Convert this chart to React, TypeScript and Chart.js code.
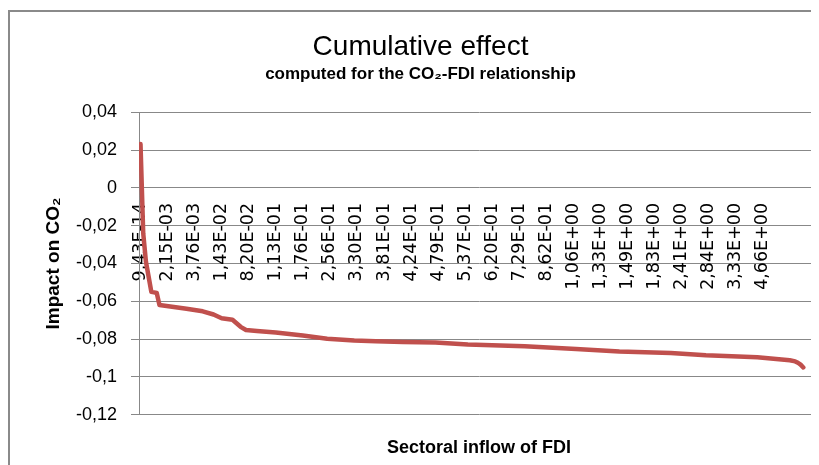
import React, { useEffect, useRef } from 'react';
import { Chart, registerables } from 'chart.js';

Chart.register(...registerables);

const chartTitle = 'Cumulative effect';
const chartSubtitle = 'computed for the CO\u2082-FDI relationship';
const yAxisTitle = 'Impact on CO\u2082';
const xAxisTitle = 'Sectoral inflow of FDI';

// Category labels shown on the x axis (every 10th sector)
const fdiTickLabels = [
  '9,43E-14', '2,15E-03', '3,76E-03', '1,43E-02', '8,20E-02', '1,13E-01',
  '1,76E-01', '2,56E-01', '3,30E-01', '3,81E-01', '4,24E-01', '4,79E-01',
  '5,37E-01', '6,20E-01', '7,29E-01', '8,62E-01', '1,06E+00', '1,33E+00',
  '1,49E+00', '1,83E+00', '2,41E+00', '2,84E+00', '3,33E+00', '4,66E+00',
];
const labelEvery = 10;

// Sector (category) index and cumulative impact
const sectorIndex = [
  0, 1, 2, 3, 4, 5, 6, 7, 11, 17, 23, 27, 30, 34, 37, 39, 43, 50, 60, 69, 79,
  87, 97, 109, 121, 142, 161, 177, 196, 209, 228, 232, 240, 242, 243, 244, 245,
];
const impactValues = [
  0.0232, -0.024, -0.039, -0.047, -0.055, -0.0553, -0.0556, -0.062, -0.0627,
  -0.0639, -0.0653, -0.067, -0.069, -0.0698, -0.0735, -0.0752, -0.0757,
  -0.0765, -0.0781, -0.0798, -0.0808, -0.0812, -0.0815, -0.0818, -0.0829,
  -0.0838, -0.0852, -0.0865, -0.0873, -0.0886, -0.0896, -0.0901, -0.0912,
  -0.0918, -0.0925, -0.0935, -0.095,
];

const yTickValues = [0.04, 0.02, 0, -0.02, -0.04, -0.06, -0.08, -0.1, -0.12];

const SANS = "'Liberation Sans', Arial, sans-serif";
const GRID = '#888888';

const framePlugin = {
  id: 'frame',
  beforeDraw(chart: any) {
    const ctx = chart.ctx;
    ctx.save();
    ctx.fillStyle = '#ffffff';
    ctx.fillRect(0, 0, chart.width, chart.height);
    ctx.strokeStyle = '#8a8a8a';
    ctx.lineWidth = 2;
    ctx.beginPath();
    ctx.moveTo(1, chart.height);
    ctx.lineTo(1, 3);
    ctx.lineTo(chart.width, 3);
    ctx.stroke();
    ctx.restore();
  },
};

function fmtComma(v: number) {
  const r = Math.round(v * 100) / 100;
  if (r === 0) return '0';
  return String(r).replace('.', ',');
}

export default function App() {
  const ref = useRef<HTMLCanvasElement>(null);

  useEffect(() => {
    if (!ref.current) return;
    const points = sectorIndex.map((x, i) => ({ x, y: impactValues[i] }));
    const chart = new Chart(ref.current, {
      type: 'line',
      data: {
        datasets: [
          {
            data: points,
            borderColor: '#C0504D',
            backgroundColor: '#C0504D',
            borderWidth: 4.5,
            pointRadius: 0,
            tension: 0,
            fill: false,
            borderJoinStyle: 'round',
            borderCapStyle: 'round',
          },
        ],
      },
      options: {
        animation: false,
        responsive: false,
        events: [],
        layout: { padding: { left: 14, right: 0, top: 0, bottom: 0 } },
        plugins: {
          legend: { display: false },
          tooltip: { enabled: false },
          title: {
            display: true,
            text: chartTitle,
            color: '#000',
            font: { family: SANS, size: 28, weight: 'normal' },
            padding: { top: 22, bottom: 0 },
          },
          subtitle: {
            display: true,
            text: chartSubtitle,
            color: '#000',
            font: { family: SANS, size: 17, weight: 'bold' },
            padding: { top: 1, bottom: 27.3 },
          },
        },
        scales: {
          x: {
            type: 'linear',
            position: { y: 0 },
            min: -0.56,
            max: 250.8,
            afterBuildTicks: (axis: any) => {
              axis.ticks = fdiTickLabels.map((_, i) => ({ value: i * labelEvery }));
            },
            ticks: {
              autoSkip: false,
              maxRotation: 90,
              minRotation: 90,
              padding: 15,
              color: '#000',
              font: { family: "'DejaVu Sans', sans-serif", size: 17.5 },
              callback: (v: any) => fdiTickLabels[Math.round(Number(v) / labelEvery)] ?? '',
            },
            grid: { display: false, drawTicks: false },
            border: { display: false },
          },
          x2: {
            axis: 'x',
            type: 'linear',
            position: 'bottom',
            min: 0,
            max: 1,
            ticks: { display: false },
            grid: { display: false, drawTicks: false },
            border: { display: false },
            title: {
              display: true,
              text: xAxisTitle,
              color: '#000',
              font: { family: SANS, size: 18, weight: 'bold' },
              padding: { top: 0, bottom: 6 },
            },
            afterFit: (s: any) => {
              s.height = 50.3;
            },
          },
          y: {
            type: 'linear',
            min: -0.12,
            max: 0.04,
            afterBuildTicks: (axis: any) => {
              axis.ticks = yTickValues.map((v) => ({ value: v }));
            },
            ticks: {
              padding: 14,
              color: '#000',
              font: { family: SANS, size: 18 },
              callback: (v: any) => fmtComma(Number(v)),
            },
            grid: { color: GRID, lineWidth: 1, tickLength: 8, drawTicks: true },
            border: { display: true, color: GRID, width: 1 },
            title: {
              display: true,
              text: yAxisTitle,
              color: '#000',
              font: { family: SANS, size: 19, weight: 'bold' },
              padding: { top: 20.4, bottom: 0 },
            },
            afterFit: (s: any) => {
              s.width = 117;
            },
          },
        },
      } as any,
      plugins: [framePlugin],
    });
    return () => chart.destroy();
  }, []);

  return (
    <div style={{ width: 811, height: 457, position: 'relative' }}>
      <canvas ref={ref} width={811} height={457} style={{ display: 'block' }} />
    </div>
  );
}
